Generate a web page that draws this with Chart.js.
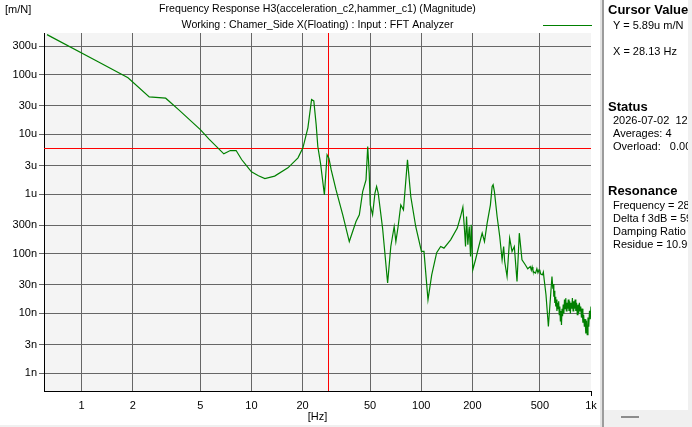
<!DOCTYPE html>
<html>
<head>
<meta charset="utf-8">
<title>Frequency Response H3</title>
<script src="https://cdn.jsdelivr.net/npm/chart.js@4.4.1/dist/chart.umd.min.js"></script>
<style>
    body { margin: 0; background: #fff; font-family: "Liberation Sans", Arial, sans-serif; color: #000; }
    #janela { position: relative; width: 692px; height: 427px; overflow: hidden; background: #fff; }
    #grafico { position: absolute; left: 0; top: 0; }
    #unidade { position: absolute; left: 5px; top: 3px; font-size: 11px; }
    #legenda { position: absolute; left: 543px; top: 25px; width: 49px; height: 1px; background: #008000; }
    #sep1 { position: absolute; left: 600px; top: 0; width: 2px; height: 427px; background: #e4e4e4; }
    #sep2 { position: absolute; left: 602px; top: 0; width: 2px; height: 427px; background: #9c9c9c; }
    #painel { position: absolute; left: 604px; top: 0; width: 84px; height: 427px; background: #fff; overflow: hidden; }
    #borda { position: absolute; left: 688px; top: 0; width: 4px; height: 427px; background: #f0f0f0; }
    #painel div { position: absolute; white-space: pre; }
    #painel .cab { left: 4px; font-size: 13px; font-weight: bold; line-height: 15px; }
    #painel .lin { left: 9px; font-size: 11px; line-height: 13px; }
    #painel #rodape { left: 0; top: 410px; width: 84px; height: 17px; background: #f0f0f0; }
    #painel #traco { left: 17px; top: 416px; width: 18px; height: 2px; background: #8c8c8c; }
    #fundo { position: absolute; left: 0; top: 425px; width: 600px; height: 2px; background: #f0f0f0; }
</style>
</head>
<body>
<div id="janela">
    <canvas id="grafico" width="600" height="427"></canvas>
    <div id="unidade">[m/N]</div>
    <div id="legenda"></div>
    <div id="fundo"></div>
    <div id="sep1"></div>
    <div id="sep2"></div>
    <div id="painel">
        <div class="cab" style="top:2px">Cursor Value</div>
        <div class="lin" style="top:19px">Y = 5.89u m/N</div>
        <div class="lin" style="top:45px">X = 28.13 Hz</div>
        <div class="cab" style="top:99px">Status</div>
        <div class="lin" style="top:114px">2026-07-02  12:0</div>
        <div class="lin" style="top:127px">Averages: 4</div>
        <div class="lin" style="top:140px">Overload:   0.00</div>
        <div class="cab" style="top:183px">Resonance</div>
        <div class="lin" style="top:199px">Frequency = 28.</div>
        <div class="lin" style="top:212px">Delta f 3dB = 59</div>
        <div class="lin" style="top:225px">Damping Ratio =</div>
        <div class="lin" style="top:238px">Residue = 10.9u</div>
        <div id="rodape"></div>
        <div id="traco"></div>
    </div>
    <div id="borda"></div>
</div>
<script>
// Frequency response magnitude
const freqHz = [
    0.625, 1.25, 1.875, 2.5, 3.125, 3.75, 5.0, 5.625, 6.875, 7.5,
    8.125, 8.75, 9.375, 10.0, 11.0, 12.0, 13.7, 16.4, 18.8, 20.1,
    21.5, 22.6, 23.3, 24.05, 24.6, 25.5, 26.9, 27.9, 28.6, 29.5,
    31.5, 34.5, 37.7, 41.3, 43.2, 45.2, 47.3, 48.4, 49.4, 50.1,
    51.7, 53.4, 54.6, 55.8, 59.2, 63.4, 66.2, 69.3, 70.9, 73.1,
    75.8, 78.6, 83.0, 86.8, 92.8, 100.3, 103.8, 109.6, 115.3, 123.3,
    130.2, 136.1, 149, 163.1, 170.5, 175.9, 179.9, 182.4, 184.9, 188.2,
    191.8, 195.2, 197.0, 201.3, 208.8, 218.3, 228.6, 235.8, 244.5, 255.6,
    261.6, 265.2, 269.9, 279.9, 290.0, 299.5, 305.9, 310.1, 320.3, 331.8,
    342.7, 353.5, 366.6, 378.2, 392.2, 410.1, 424, 438.8, 445, 450,
    455, 462, 471.3, 480, 487, 494.2, 500, 505, 510, 518.1,
    524, 530.1, 543.1, 561.0, 574.8, 589.0, 596, 600, 604, 608,
    612, 616, 620, 625, 630, 635, 640, 645, 650, 655,
    660, 665, 670, 675, 680, 686, 692, 698, 704, 710,
    716, 722, 728, 735, 742, 749, 756, 763, 770, 777,
    784, 791, 798, 806, 814, 822, 830, 838, 846, 854,
    862, 870, 878, 887, 896, 905, 914, 923, 932, 941,
    950, 960, 970, 980, 990, 1000
];
const magnitude = [
    4.7e-4, 1.65e-4, 8.9e-5, 4.25e-5, 4.04e-5, 2.55e-5, 1.2e-5, 8.3e-6, 4.71e-6, 5.36e-6,
    5.36e-6, 3.79e-6, 2.96e-6, 2.35e-6, 2.02e-6, 1.82e-6, 2.0e-6, 2.75e-6, 4.04e-6, 5.94e-6,
    1.29e-5, 3.85e-5, 3.64e-5, 1.46e-5, 6.25e-6, 3.34e-6, 9.7e-7, 4.54e-6, 3.99e-6, 2.54e-6,
    1.17e-6, 4.49e-7, 1.6e-7, 3.46e-7, 4.49e-7, 1.1e-6, 1.73e-6, 6.25e-6, 2.24e-6, 6.59e-7,
    4.49e-7, 1.04e-6, 1.34e-6, 1.04e-6, 2.69e-7, 3.22e-8, 1.32e-7, 2.86e-7, 1.6e-7, 2.86e-7,
    6.59e-7, 5.43e-7, 3.74e-6, 9.08e-7, 2.86e-7, 1.09e-7, 1.09e-7, 1.69e-8, 4.43e-8, 1.04e-7,
    1.32e-7, 1.24e-7, 1.71e-7, 2.69e-7, 4.2e-7, 6.03e-7, 2.51e-7, 1.32e-7, 4.2e-7, 1.41e-7,
    2.86e-7, 8.97e-8, 3.05e-7, 5.37e-8, 7.91e-8, 1.32e-7, 2.21e-7, 1.6e-7, 3.26e-7, 6.59e-7,
    1.34e-6, 1.43e-6, 1.1e-6, 4.2e-7, 1.94e-7, 7.91e-8, 1.32e-7, 7.39e-8, 4.15e-8, 1.82e-7,
    1.09e-7, 1.32e-7, 3.42e-8, 2.21e-7, 7.91e-8, 6.52e-8, 5.6e-8, 6.1e-8, 5.3e-8, 6.0e-8,
    5.2e-8, 4.9e-8, 4.73e-8, 5.6e-8, 4.8e-8, 5.37e-8, 5.2e-8, 4.6e-8, 4.5e-8, 4.43e-8,
    4.9e-8, 3.66e-8, 2.05e-8, 6.03e-9, 1.58e-8, 4.15e-8, 2.6e-8, 3.1e-8, 1.9e-8, 2.4e-8,
    1.5e-8, 1.9e-8, 1.3e-8, 1.7e-8, 1.1e-8, 1.5e-8, 1.2e-8, 1.6e-8, 9.5e-9, 1.3e-8,
    7.5e-9, 1.1e-8, 6.4e-9, 1.2e-8, 9.0e-9, 1.4e-8, 1.0e-8, 1.7e-8, 1.2e-8, 1.8e-8,
    1.1e-8, 1.5e-8, 1.2e-8, 1.7e-8, 1.1e-8, 1.6e-8, 1.0e-8, 1.5e-8, 1.2e-8, 1.8e-8,
    1.1e-8, 1.6e-8, 1.2e-8, 1.7e-8, 1.1e-8, 1.5e-8, 9.5e-9, 1.4e-8, 1.0e-8, 1.5e-8,
    1.1e-8, 1.3e-8, 8.5e-9, 1.2e-8, 7.0e-9, 9.5e-9, 6.0e-9, 8.0e-9, 4.6e-9, 7.5e-9,
    4.4e-9, 8.5e-9, 6.0e-9, 1.1e-8, 8.0e-9, 1.3e-8
];

const xTicks = [1, 2, 5, 10, 20, 50, 100, 200, 500, 1000];
const xTickLabels = ['1', '2', '5', '10', '20', '50', '100', '200', '500', '1k'];
const yTicks = [1e-9, 3e-9, 1e-8, 3e-8, 1e-7, 3e-7, 1e-6, 3e-6, 1e-5, 3e-5, 1e-4, 3e-4];
const yTickLabels = ['1n', '3n', '10n', '30n', '100n', '300n', '1u', '3u', '10u', '30u', '100u', '300u'];

const titleLines = [
    'Frequency Response H3(acceleration_c2,hammer_c1) (Magnitude)',
    'Working : Chamer_Side X(Floating) : Input : FFT Analyzer'
];

// cursor position shown in the side panel
const cursorX = 28.13;
const cursorY = 5.89e-6;

document.addEventListener('DOMContentLoaded', function () {
    const canvas = document.getElementById('grafico');
    const fonte = { family: '"Liberation Sans", Arial, sans-serif', size: 11 };

    // light grey plot background
    const fundoPlot = {
        id: 'fundoPlot',
        beforeDraw(chart) {
            const a = chart.chartArea;
            chart.ctx.save();
            chart.ctx.fillStyle = '#f4f4f4';
            chart.ctx.fillRect(a.left, a.top, a.right - a.left, a.bottom - a.top);
            chart.ctx.restore();
        }
    };

    // red crosshair at the cursor
    const cursor = {
        id: 'cursor',
        beforeDatasetsDraw(chart) {
            const { ctx, chartArea: a, scales: { x, y } } = chart;
            const px = Math.round(x.getPixelForValue(cursorX)) + 0.5;
            const py = Math.round(y.getPixelForValue(cursorY)) + 0.5;
            ctx.save();
            ctx.strokeStyle = '#ff0000';
            ctx.lineWidth = 1;
            ctx.beginPath();
            ctx.moveTo(px, a.top);
            ctx.lineTo(px, a.bottom);
            ctx.moveTo(a.left, py);
            ctx.lineTo(a.right, py);
            ctx.stroke();
            ctx.restore();
        }
    };

    new Chart(canvas, {
        type: 'line',
        data: {
            datasets: [{
                label: 'H3',
                data: freqHz.map((f, i) => ({ x: f, y: magnitude[i] })),
                borderColor: '#008000',
                borderWidth: 1.2,
                pointRadius: 0,
                tension: 0,
                fill: false
            }]
        },
        options: {
            responsive: false,
            animation: false,
            layout: { padding: { left: 0, right: 9, top: 0, bottom: 0 } },
            plugins: {
                legend: { display: false },
                tooltip: { enabled: false },
                title: {
                    display: true,
                    text: titleLines,
                    fullSize: false,
                    color: '#000',
                    font: { family: fonte.family, size: 10.6, weight: 'normal', lineHeight: 16 / 10.6 },
                    padding: { top: 1, bottom: 0 }
                }
            },
            scales: {
                x: {
                    type: 'logarithmic',
                    min: 0.619,
                    max: 1000,
                    afterBuildTicks: function (scale) {
                        scale.ticks = xTicks.map(v => ({ value: v }));
                    },
                    afterFit: function (scale) { scale.height = 36; },
                    ticks: {
                        autoSkip: false,
                        maxRotation: 0,
                        color: '#000',
                        font: fonte,
                        padding: 3,
                        callback: function (value, index) { return xTickLabels[index]; }
                    },
                    grid: {
                        color: ctx => (ctx.tick && ctx.tick.value === 1000) ? 'rgba(0,0,0,0)' : '#666666',
                        tickColor: ctx => (ctx.tick && ctx.tick.value === 1000) ? '#000' : 'rgba(0,0,0,0)',
                        tickLength: 5
                    },
                    border: { color: '#000', width: 1 },
                    title: {
                        display: true,
                        text: '[Hz]',
                        color: '#000',
                        font: fonte,
                        padding: { top: 0, bottom: 3 }
                    }
                },
                y: {
                    type: 'logarithmic',
                    min: 5e-10,
                    max: 5e-4,
                    afterBuildTicks: function (scale) {
                        scale.ticks = yTicks.map(v => ({ value: v }));
                    },
                    afterFit: function (scale) { scale.width = 44; },
                    ticks: {
                        autoSkip: false,
                        color: '#000',
                        font: fonte,
                        padding: 2,
                        callback: function (value, index) { return yTickLabels[index]; }
                    },
                    grid: { color: '#666666', tickColor: '#666666', tickLength: 5 },
                    border: { color: '#000', width: 1 }
                }
            }
        },
        plugins: [fundoPlot, cursor]
    });
});
</script>
</body>
</html>
